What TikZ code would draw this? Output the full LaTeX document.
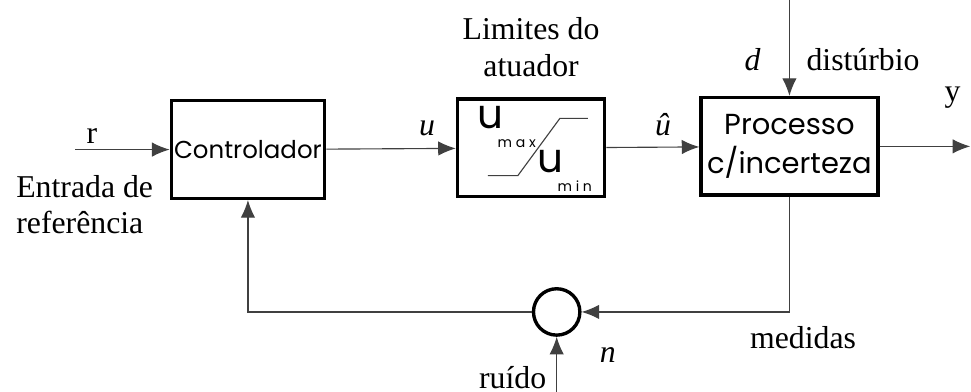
\documentclass[tikz,border=0pt]{standalone}
\usepackage{fontspec}
\setmainfont{Liberation Serif}
\newfontfamily\boxfont{Poppins}
\usetikzlibrary{arrows.meta, positioning, calc}
\newcommand{\ulim}[1]{{\boxfont\Large u}\kern-2pt\raisebox{-1.5ex}{\boxfont\tiny #1}}

\begin{document}
\begin{tikzpicture}[
      blk/.style={draw, line width=1.2pt, minimum height=1.22cm, align=center,
                  inner sep=1pt},
      sig/.style={-{Latex[length=2.2mm, width=1.8mm]}, thin, black!75},
      wire/.style={thin, black!75},
      lbl/.style={font=\fontsize{11.3}{13}\selectfont, align=left}
    ]
    \useasboundingbox (0,0) rectangle (12.14,4.9);
    \node[blk, minimum width=1.86cm, font=\boxfont\fontsize{8.7}{13}\selectfont]
      (ctrl) at (3.1,3.03) {Controlador};
    \node[blk, minimum width=1.84cm] (sat) at (6.64,3.05) {};
    \node[blk, minimum width=2.21cm, font=\boxfont\fontsize{10.3}{14}\selectfont]
      (proc) at (9.87,3.07) {Processo\\c/incerteza};
    \node[circle, draw, line width=1.2pt, minimum size=0.58cm, inner sep=0pt]
      (sum) at (6.96,1.0) {};
    \coordinate (rin) at (0.94,3.03);
    \coordinate (yout) at (12.13,3.07);
    \coordinate (dtop) at (9.87,4.9);
    \coordinate (nbot) at (6.96,0);
    % saturation curve
    \draw[wire] ($(sat)+(-0.54,-0.345)$) -- ++(0.375,0) -- ++(0.525,0.715) -- ++(0.35,0);
    \node[anchor=north west, inner sep=0pt] (umax) at ($(sat)+(-0.68,0.53)$) {\ulim{m a x}};
    \node[anchor=north west, inner sep=0pt] (umin) at ($(sat)+(0.07,-0.02)$) {\ulim{m i n}};
    % signals
    \draw[sig] (rin) -- (ctrl);
    \draw[sig] (ctrl) -- (sat);
    \draw[sig] (sat) -- (proc);
    \draw[sig] (proc) -- (yout);
    \draw[sig] (dtop) -- (proc);
    \draw[sig] (proc.south) |- (sum);
    \draw[sig] (sum) -| (ctrl.south);
    \draw[sig] (nbot) -- (sum);
    % labels
    \node[lbl] (r) at (1.15,3.2) {r};
    \node[lbl, anchor=west] (ent) at (0.08,2.34) {Entrada de\\referência};
    \node[lbl] (u) at (5.34,3.3) {\textit{u}};
    \node[lbl, align=center, above=0.14cm of sat] (lim) {Limites do\\atuador};
    \node[lbl] (uh) at (8.29,3.34) {\textit{û}};
    \node[lbl] (d) at (9.41,4.15) {\textit{d}};
    \node[lbl] (dist) at (10.79,4.15) {distúrbio};
    \node[lbl] (y) at (11.91,3.68) {y};
    \node[lbl] (med) at (10.04,0.675) {medidas};
    \node[lbl] (n) at (7.6,0.46) {\textit{n}};
    \node[lbl] (ruido) at (6.41,0.175) {ruído};
  \end{tikzpicture}
\end{document}
